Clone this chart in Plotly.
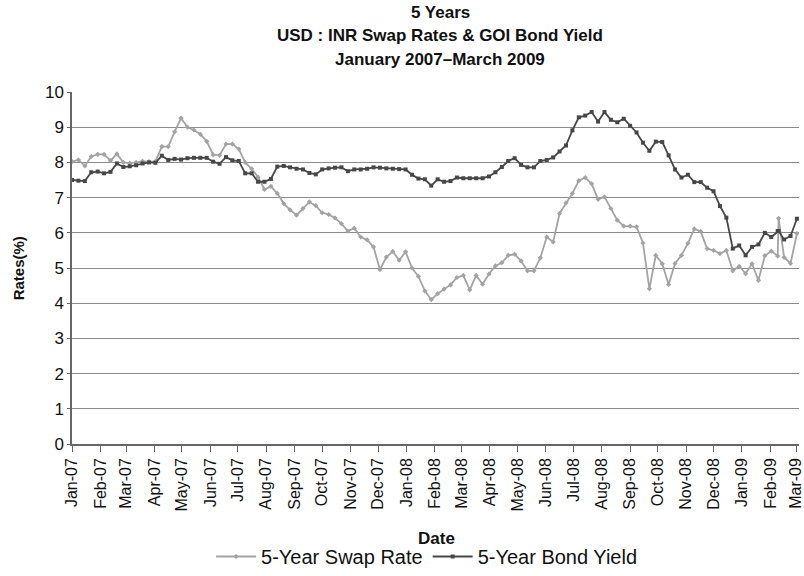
import pandas as pd
import plotly.graph_objects as go

# Weekly observations, Jan 2007 - Mar 2009
week_start = "2007-01-01"
n_weeks = 114
# an extra quote taken one day after the 2009-02-09 observation
extra_date = "2009-02-10"
extra_after_index = 110

swap_rate = [
    8.02, 8.07, 7.90, 8.17, 8.23, 8.23, 8.05, 8.24, 8.00, 7.98,
    8.00, 8.03, 8.02, 8.03, 8.45, 8.45, 8.87, 9.26, 9.00, 8.92,
    8.80, 8.60, 8.22, 8.20, 8.52, 8.52, 8.38, 8.00, 7.82, 7.58,
    7.23, 7.32, 7.12, 6.83, 6.65, 6.50, 6.69, 6.88, 6.77, 6.57,
    6.52, 6.42, 6.26, 6.05, 6.13, 5.88, 5.80, 5.60, 4.95, 5.31,
    5.47, 5.22, 5.46, 5.00, 4.76, 4.35, 4.10, 4.27, 4.40, 4.52,
    4.73, 4.79, 4.38, 4.79, 4.54, 4.83, 5.06, 5.15, 5.36, 5.39,
    5.20, 4.92, 4.92, 5.29, 5.88, 5.74, 6.55, 6.85, 7.12, 7.48,
    7.57, 7.39, 6.95, 7.02, 6.69, 6.36, 6.19, 6.19, 6.17, 5.71,
    4.41, 5.36, 5.12, 4.53, 5.13, 5.36, 5.70, 6.11, 6.04, 5.55,
    5.50, 5.41, 5.50, 4.92, 5.05, 4.84, 5.12, 4.65, 5.35, 5.48,
    5.34, 5.30, 5.13, 5.98,
]
swap_extra = 6.41

bond_yield = [
    7.50, 7.48, 7.47, 7.72, 7.74, 7.69, 7.73, 7.97, 7.87, 7.89,
    7.92, 7.97, 8.00, 7.99, 8.19, 8.07, 8.10, 8.08, 8.12, 8.13,
    8.13, 8.13, 8.02, 7.96, 8.15, 8.06, 8.04, 7.69, 7.69, 7.45,
    7.45, 7.53, 7.88, 7.90, 7.86, 7.82, 7.80, 7.70, 7.66, 7.80,
    7.83, 7.85, 7.86, 7.75, 7.80, 7.80, 7.82, 7.86, 7.85, 7.83,
    7.82, 7.81, 7.80, 7.65, 7.54, 7.52, 7.34, 7.52, 7.45, 7.47,
    7.57, 7.55, 7.55, 7.55, 7.55, 7.60, 7.72, 7.87, 8.04, 8.12,
    7.93, 7.86, 7.86, 8.04, 8.07, 8.14, 8.31, 8.48, 8.91, 9.28,
    9.33, 9.43, 9.16, 9.43, 9.21, 9.14, 9.24, 9.04, 8.85, 8.56,
    8.33, 8.59, 8.58, 8.20, 7.80, 7.57, 7.65, 7.44, 7.44, 7.28,
    7.18, 6.76, 6.43, 5.55, 5.64, 5.36, 5.60, 5.67, 6.00, 5.88,
    6.05, 5.81, 5.91, 6.40,
]
bond_extra = 6.05

dates = list(pd.date_range(week_start, periods=n_weeks, freq="7D"))
dates.insert(extra_after_index + 1, pd.Timestamp(extra_date))
swap_rate.insert(extra_after_index + 1, swap_extra)
bond_yield.insert(extra_after_index + 1, bond_extra)

FONT = "Liberation Sans, Arial, sans-serif"
SWAP_COLOR = "#a3a3a3"
BOND_COLOR = "#474747"

fig = go.Figure()
fig.add_trace(go.Scatter(
    x=dates, y=swap_rate, name="5-Year Swap Rate", mode="lines+markers",
    line=dict(color=SWAP_COLOR, width=1.8),
    marker=dict(symbol="diamond", size=4, color=SWAP_COLOR),
))
fig.add_trace(go.Scatter(
    x=dates, y=bond_yield, name="5-Year Bond Yield", mode="lines+markers",
    line=dict(color=BOND_COLOR, width=1.8),
    marker=dict(symbol="square", size=4, color=BOND_COLOR),
))

W, H = 804, 576
L, T, B = 72, 92, 132
plot_h = H - T - B

def py(pix):
    # pixel row -> paper y
    return (H - B - pix) / plot_h

def px(pix):
    # pixel column -> paper x
    return (pix - L) / (W - L)

titles = ["5 Years", "USD : INR Swap Rates & GOI Bond Yield", "January 2007\u2013March 2009"]
for text, row in zip(titles, [12, 36, 59]):
    fig.add_annotation(text=f"<b>{text}</b>", x=px(443), y=py(row), xref="paper", yref="paper",
                       showarrow=False, xanchor="center", yanchor="middle",
                       font=dict(family=FONT, size=17, color="#111"))

fig.add_annotation(text="<b>Rates(%)</b>", x=px(18), y=0.5, xref="paper", yref="paper",
                   textangle=-90, showarrow=False, xanchor="center", yanchor="middle",
                   font=dict(family=FONT, size=15, color="#111"))
fig.add_annotation(text="<b>Date</b>", x=px(439), y=py(538), xref="paper", yref="paper",
                   showarrow=False, xanchor="center", yanchor="middle",
                   font=dict(family=FONT, size=17, color="#111"))

fig.update_layout(
    width=W, height=H,
    margin=dict(l=L, r=0, t=T, b=B),
    paper_bgcolor="white", plot_bgcolor="white",
    font=dict(family=FONT, color="#111"),
    showlegend=True,
    legend=dict(orientation="h", x=px(429), xanchor="center", y=py(557), yanchor="middle",
                font=dict(family=FONT, size=20, color="#111"), itemwidth=40),
)
fig.update_xaxes(
    type="date", range=["2007-01-01", "2009-03-04 06:00"],
    dtick="M1", tick0="2007-01-01", tickformat="%b-%y", tickangle=-90,
    ticks="outside", ticklen=6, tickcolor="#666", showline=True, linecolor="#666", linewidth=1.5,
    showgrid=False, zeroline=False, tickfont=dict(family=FONT, size=16, color="#111"),
    ticklabeloverflow="allow",
)
fig.update_yaxes(
    range=[0, 10], dtick=1, ticks="outside", ticklen=3, tickcolor="#666",
    showline=True, linecolor="#666", linewidth=1.5, showgrid=True, gridcolor="#8a8a8a", gridwidth=1,
    zeroline=False, tickfont=dict(family=FONT, size=17, color="#111"),
)

fig.write_html("out.html")
